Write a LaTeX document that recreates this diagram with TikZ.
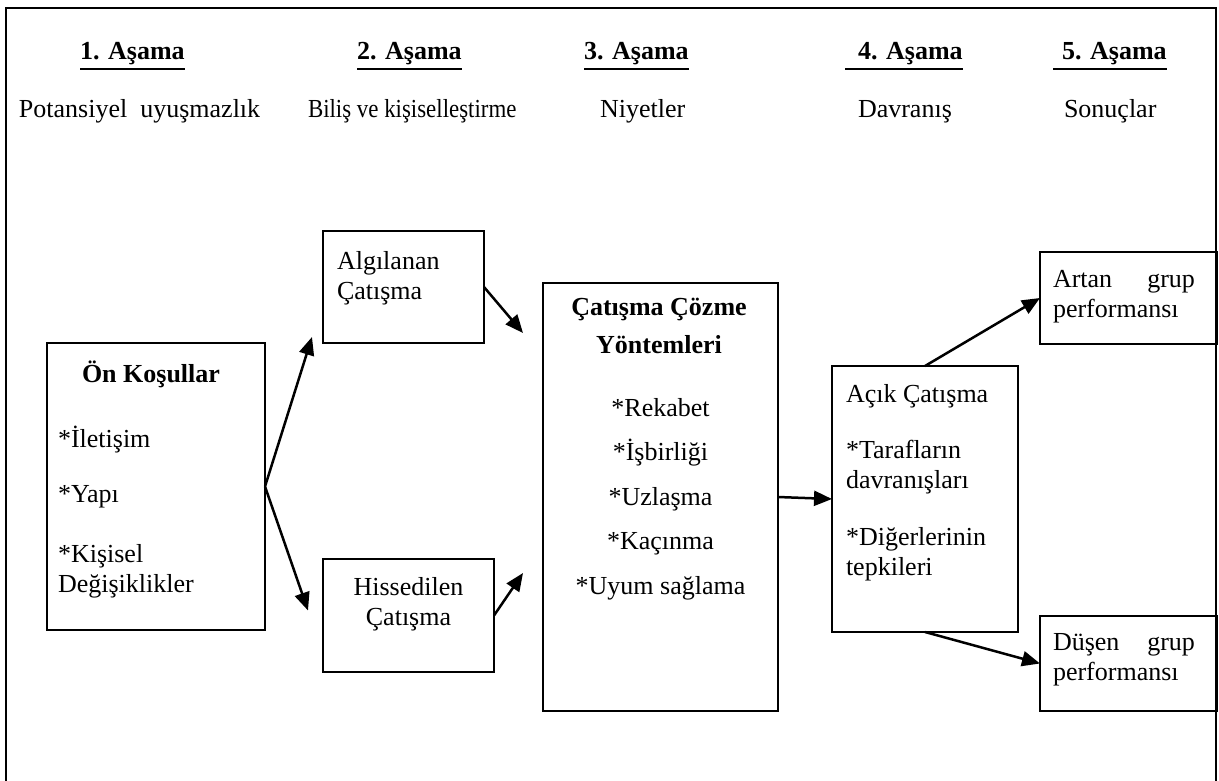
\documentclass[tikz,border=0pt]{standalone}
\usepackage{fontspec}
\usepackage{graphicx}
\setmainfont{Liberation Serif}
\usetikzlibrary{arrows.meta,calc}
\begin{document}
\begin{tikzpicture}[x=1pt,y=-1pt,
  every node/.style={font=\fontsize{26}{30}\selectfont, inner sep=0pt, outer sep=0pt},
  box/.style={draw, line width=2pt, rectangle, inner sep=0pt},
  txt/.style={anchor=base west, align=left},
  ctxt/.style={anchor=base, align=center},
  head/.style={anchor=base west, font=\fontsize{26}{30}\selectfont\bfseries},
  uline/.style={line width=2.5pt},
  link/.style={line width=2.5pt, -{Triangle[length=18pt,width=15pt]}},
  frame/.style={line width=2pt},
]
\useasboundingbox (0,0) rectangle (1219,781);
\clip (0,0) rectangle (1219,781);

% outer frame (its lower edge lies below the page)
\draw[frame] (6,8) rectangle (1216,820);

% stage headings
\node[head] (h1) at (80,60) {1. Aşama};
\node[head] (h2) at (357,60) {2. Aşama};
\node[head] (h3) at (584,60) {3. Aşama};
\node[head] (h4) at (845,60) {\hspace*{13pt}4. Aşama};
\node[head] (h5) at (1053,60) {\hspace*{9pt}5. Aşama};
\foreach \h in {h1,h2,h3,h4,h5}
  \draw[uline] ($(\h.base west)+(0,9)$) -- ($(\h.base east)+(0,9)$);

% stage names
\node[txt] (s1) at (19,118) {Potansiyel\ \ uyuşmazlık};
\node[txt] (s2) at (308,118) {\scalebox{0.88}[1]{Biliş ve kişiselleştirme}};
\node[txt] (s3) at (600,118) {Niyetler};
\node[txt] (s4) at (858,118) {Davranış};
\node[txt] (s5) at (1064,118) {Sonuçlar};

% boxes
\node[box, minimum width=218, minimum height=287] (on)    at (156,486.5) {};
\node[box, minimum width=161, minimum height=112] (alg)   at (403.5,287) {};
\node[box, minimum width=171, minimum height=113] (his)   at (408.5,615.5) {};
\node[box, minimum width=235, minimum height=428] (coz)   at (660.5,497) {};
\node[box, minimum width=186, minimum height=266] (acik)  at (925,499) {};
\node[box, minimum width=177, minimum height=92]  (artan) at (1128.5,298) {};
\node[box, minimum width=177, minimum height=95]  (dusen) at (1128.5,663.5) {};

% box contents (multi-line align nodes sit on the baseline of their last line;
% the fixed-width ones sit on their first line)
\node[ctxt, font=\fontsize{26}{30}\selectfont\bfseries] (onT) at (151,382) {Ön Koşullar};
\node[txt] (on1) at (58,447) {*İletişim};
\node[txt] (on2) at (58,502) {*Yapı};
\node[txt] (on3) at (58,592) {*Kişisel\\Değişiklikler};

\node[txt] (algT) at (337,299) {Algılanan\\Çatışma};
\node[ctxt] (hisT) at (408.5,625) {Hissedilen\\Çatışma};

\node[ctxt, font=\fontsize{26}{30}\selectfont\bfseries] (cozT) at (659,353) {Çatışma Çözme\\[8pt]Yöntemleri};
\node[ctxt] (coz1) at (660.5,416) {*Rekabet};
\node[ctxt] (coz2) at (660.5,460.5) {*İşbirliği};
\node[ctxt] (coz3) at (660.5,505) {*Uzlaşma};
\node[ctxt] (coz4) at (660.5,549.5) {*Kaçınma};
\node[ctxt] (coz5) at (660.5,594) {*Uyum sağlama};

\node[txt] (acikT) at (846,402) {Açık Çatışma};
\node[txt] (acik1) at (846,488) {*Tarafların\\davranışları};
\node[txt] (acik2) at (846,575) {*Diğerlerinin\\tepkileri};

\node[txt, text width=142] (artanT) at (1053,287) {Artan\hfill grup\\performansı};
\node[txt, text width=142] (dusenT) at (1053,650) {Düşen\hfill grup\\performansı};

% connectors
\draw[link] (on.east) -- ($(alg.south west)+(-11,-6)$);
\draw[link] (on.east) -- ($(his.west)+(-15,-5)$);
\draw[link] (alg.east) -- ($(coz.north west)+(-20,50)$);
\draw[link] (his.east) -- ($(coz.north west)+(-20,290)$);
\draw[link] (coz.east) -- (acik.west);
\draw[link] (acik.north) -- (artan.west);
\draw[link] (acik.south) -- (dusen.west);
\end{tikzpicture}
\end{document}
